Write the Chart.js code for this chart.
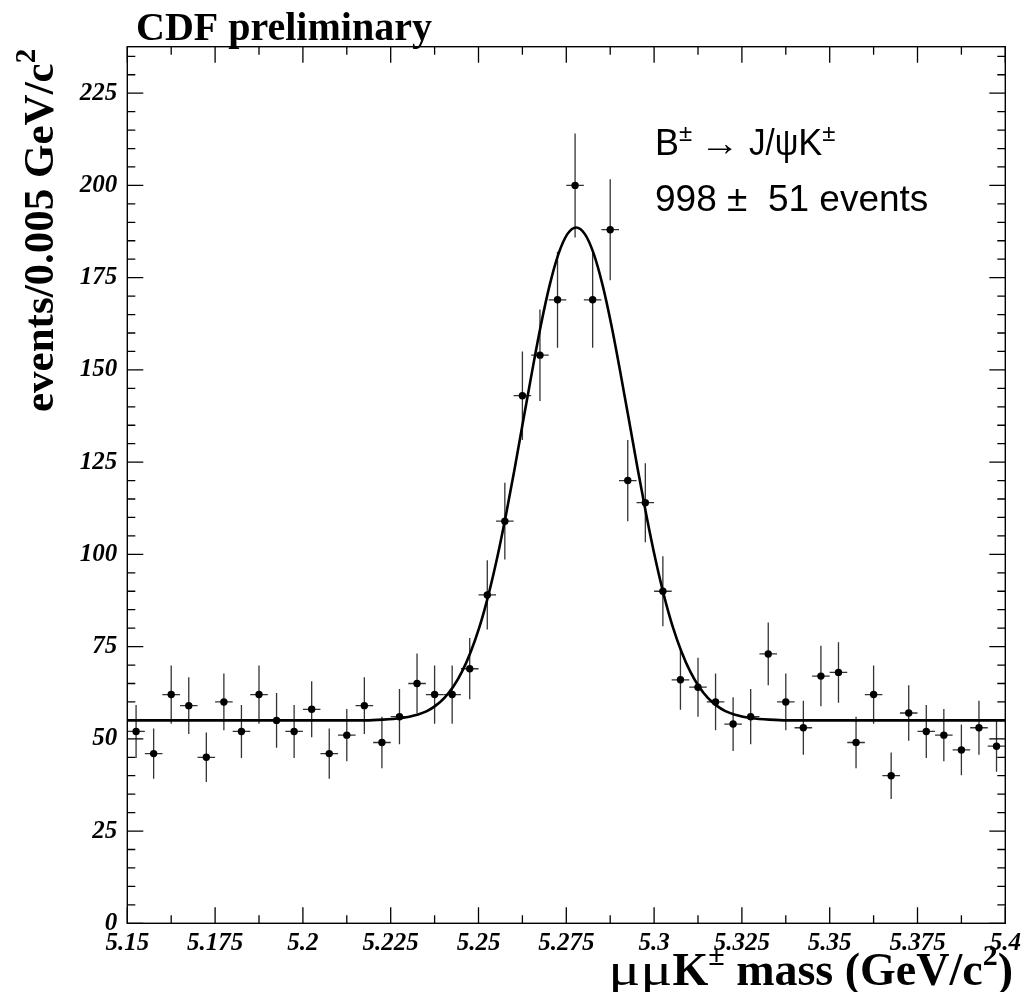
<!DOCTYPE html>
<html><head><meta charset="utf-8">
<script src="https://cdn.jsdelivr.net/npm/chart.js@4.4.1/dist/chart.umd.min.js"></script>
<style>html,body{margin:0;padding:0;background:#fff;}#wrap{width:1025px;height:992px;position:relative;}</style>
</head><body><div id="wrap"><canvas id="c" width="1025" height="992"></canvas></div>
<script>
// ---- data ----
const binCenters = [5.1525,5.1575,5.1625,5.1675,5.1725,5.1775,5.1825,5.1875,5.1925,5.1975,
  5.2025,5.2075,5.2125,5.2175,5.2225,5.2275,5.2325,5.2375,5.2425,5.2475,
  5.2525,5.2575,5.2625,5.2675,5.2725,5.2775,5.2825,5.2875,5.2925,5.2975,
  5.3025,5.3075,5.3125,5.3175,5.3225,5.3275,5.3325,5.3375,5.3425,5.3475,
  5.3525,5.3575,5.3625,5.3675,5.3725,5.3775,5.3825,5.3875,5.3925,5.3975];
const counts = [52,46,62,59,45,60,52,62,55,52,
  58,46,51,59,49,56,65,62,62,69,
  89,109,143,154,169,200,169,188,120,114,
  90,66,64,60,54,56,73,60,53,67,
  68,49,62,40,57,52,51,47,53,48];
const errors = [7.2,6.8,7.9,7.7,6.7,7.7,7.2,7.9,7.4,7.2,
  7.6,6.8,7.1,7.7,7.0,7.5,8.1,7.9,7.9,8.3,
  9.4,10.4,12.0,12.4,13.0,14.1,13.0,13.7,11.0,10.7,
  9.5,8.1,8.0,7.7,7.3,7.5,8.5,7.7,7.3,8.2,
  8.2,7.0,7.9,6.3,7.5,7.2,7.1,6.9,7.3,6.9];
const binHalfWidth = 0.0025;
const fitX = [5.15,5.2178,5.2228,5.2278,5.2303,5.2328,5.2353,5.2378,5.2403,5.2428,5.2453,5.2478,
  5.2503,5.2528,5.2553,5.2578,5.2603,5.2628,5.2653,5.2678,5.2703,5.2728,5.2753,5.2778,
  5.2803,5.2828,5.2853,5.2878,5.2903,5.2928,5.2953,5.2978,5.3003,5.3028,5.3053,5.3078,
  5.3103,5.3128,5.3153,5.3178,5.3203,5.3228,5.3253,5.3278,5.3328,5.3378,5.4];
const fitY = [55.0,55.0,55.2,55.6,56.0,56.6,57.5,59.0,61.1,64.1,68.2,73.6,
  80.4,88.9,99.0,110.6,123.3,136.6,149.8,162.3,173.1,181.5,186.8,188.6,
  186.8,181.5,173.1,162.3,149.8,136.6,123.3,110.6,99.0,88.9,80.4,73.6,
  68.2,64.1,61.1,59.0,57.5,56.6,56.0,55.6,55.2,55.0,55.0];
const xTickValues = [5.15,5.175,5.2,5.225,5.25,5.275,5.3,5.325,5.35,5.375,5.4];
const xTickLabels = ['5.15','5.175','5.2','5.225','5.25','5.275','5.3','5.325','5.35','5.375','5.4'];
const xMinorStep = 0.0125;
const yTickValues = [0,25,50,75,100,125,150,175,200,225];
const yTickLabels = ['0','25','50','75','100','125','150','175','200','225'];
const yMinorStep = 5;
const xMin = 5.15, xMax = 5.4, yMin = 0, yMax = 237.6;

const SERIF = '"Liberation Serif","Times New Roman",serif';
const SANS = '"Liberation Sans",Arial,Helvetica,sans-serif';

function runs(ctx, parts, x, y) {
  let cx = x;
  for (const [t, f, dy, sx] of parts) {
    ctx.font = f;
    const w = ctx.measureText(t).width * (sx || 1);
    ctx.save();
    ctx.translate(cx, y + (dy || 0));
    ctx.scale(sx || 1, 1);
    ctx.fillText(t, 0, 0);
    ctx.restore();
    cx += w;
  }
  return cx;
}
function runsWidth(ctx, parts) {
  let w = 0;
  for (const [t, f, dy, sx] of parts) { ctx.font = f; w += ctx.measureText(t).width * (sx || 1); }
  return w;
}

const decor = {
  id: 'decor',
  beforeDatasetsDraw(chart) {
    const ctx = chart.ctx, xs = chart.scales.x, ys = chart.scales.y;
    ctx.save();
    ctx.strokeStyle = '#333';
    ctx.lineWidth = 1.3;
    for (let i = 0; i < counts.length; i++) {
      const px = xs.getPixelForValue(binCenters[i]);
      const py = ys.getPixelForValue(counts[i]);
      const t = ys.getPixelForValue(counts[i] + errors[i]);
      const b = ys.getPixelForValue(Math.max(0, counts[i] - errors[i]));
      const l = xs.getPixelForValue(binCenters[i] - binHalfWidth);
      const r = xs.getPixelForValue(binCenters[i] + binHalfWidth);
      ctx.beginPath();
      ctx.moveTo(px, t); ctx.lineTo(px, b);
      ctx.moveTo(l, py); ctx.lineTo(r, py);
      ctx.stroke();
    }
    ctx.restore();
  },
  afterDraw(chart) {
    const ctx = chart.ctx, xs = chart.scales.x, ys = chart.scales.y;
    const a = chart.chartArea;
    ctx.save();
    ctx.strokeStyle = '#000';
    ctx.lineWidth = 1.4;
    ctx.strokeRect(a.left, a.top, a.right - a.left, a.bottom - a.top);
    ctx.lineWidth = 1.3;
    ctx.beginPath();
    const nx = Math.round((xMax - xMin) / xMinorStep);
    for (let k = 0; k <= nx; k++) {
      const v = xMin + k * xMinorStep;
      const len = (k % 2 === 0) ? 16 : 8;
      const px = xs.getPixelForValue(v);
      ctx.moveTo(px, a.bottom); ctx.lineTo(px, a.bottom - len);
      ctx.moveTo(px, a.top); ctx.lineTo(px, a.top + len);
    }
    for (let v = yMin; v <= yMax + 1e-9; v += yMinorStep) {
      const len = (Math.round(v) % 25 === 0) ? 16 : 8;
      const py = ys.getPixelForValue(v);
      ctx.moveTo(a.left, py); ctx.lineTo(a.left + len, py);
      ctx.moveTo(a.right, py); ctx.lineTo(a.right - len, py);
    }
    ctx.stroke();

    ctx.fillStyle = '#000';
    ctx.textBaseline = 'alphabetic';
    ctx.textAlign = 'left';
    ctx.font = 'bold 40px ' + SERIF;
    ctx.fillText('CDF preliminary', 136, 40);

    // y axis title (rotated)
    ctx.save();
    ctx.translate(53, 412);
    ctx.rotate(-Math.PI / 2);
    runs(ctx, [['events/0.005 GeV/c', 'bold 43px ' + SERIF, 0], ['2', 'bold 29px ' + SERIF, -18]], 0, 0);
    ctx.restore();

    // x axis title, right aligned
    const xparts = [['\u03bc\u03bc', '46px ' + SERIF, 0, 1.3], ['K', 'bold 46px ' + SERIF, 0], ['\u00b1', 'bold 30px ' + SERIF, -20],
      [' mass (GeV/c', 'bold 46px ' + SERIF, 0], ['2', 'bold 30px ' + SERIF, -20], [')', 'bold 46px ' + SERIF, 0]];
    const w = runsWidth(ctx, xparts);
    runs(ctx, xparts, 1013 - w, 985);

    // annotation
    const big = '36px ' + SANS, sup = '24px ' + SANS;
    runs(ctx, [['B', big, 0], ['\u00b1', sup, -14], [' ', big, 0, 0.8], ['\u2192', big, 0, 1.1], [' J/', big, 0, 0.92], ['\u03c8', big, 0, 0.92], ['K', big, 0], ['\u00b1', sup, -14]], 655, 155);
    runs(ctx, [['998 \u00b1  51 events', '37px ' + SANS, 0]], 655, 211);
    ctx.restore();
  }
};

const ctx = document.getElementById('c').getContext('2d');
new Chart(ctx, {
  type: 'scatter',
  data: {
    datasets: [
      { type: 'scatter', data: binCenters.map((x, i) => ({ x, y: counts[i] })),
        backgroundColor: '#000', borderColor: '#000', pointRadius: 3.7, pointBorderWidth: 0, order: 1 },
      { type: 'line', data: fitX.map((x, i) => ({ x, y: fitY[i] })), borderColor: '#000', borderWidth: 2.6,
        pointRadius: 0, cubicInterpolationMode: 'monotone', fill: false, order: 2 }
    ]
  },
  options: {
    responsive: false, animation: false, devicePixelRatio: 1,
    layout: { padding: { left: 0, top: 46.7, right: 19.7, bottom: 23.7 } },
    plugins: { legend: { display: false }, tooltip: { enabled: false } },
    scales: {
      x: {
        type: 'linear', min: xMin, max: xMax,
        afterBuildTicks: s => { s.ticks = xTickValues.map(v => ({ value: v })); },
        afterFit: s => { s.height = 45; s.paddingLeft = 0; s.paddingRight = 0; },
        grid: { display: false, drawTicks: false }, border: { display: false },
        ticks: { autoSkip: false, maxRotation: 0, padding: 5, color: '#000',
          font: { family: 'Liberation Serif', style: 'italic', weight: 'bold', size: 25 },
          callback: (v, i) => xTickLabels[i] }
      },
      y: {
        type: 'linear', min: yMin, max: yMax,
        afterBuildTicks: s => { s.ticks = yTickValues.map(v => ({ value: v })); },
        afterFit: s => { s.width = 127.3; s.paddingTop = 0; s.paddingBottom = 0; },
        grid: { display: false, drawTicks: false }, border: { display: false },
        ticks: { autoSkip: false, padding: 10, color: '#000',
          font: { family: 'Liberation Serif', style: 'italic', weight: 'bold', size: 25 },
          callback: (v, i) => yTickLabels[i] }
      }
    }
  },
  plugins: [decor]
});
</script></body></html>
